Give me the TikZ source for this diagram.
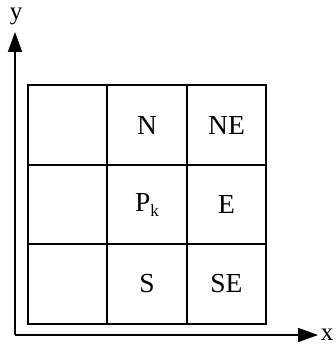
\documentclass[tikz,border=0pt]{standalone}
\usepackage{fontspec}
\setmainfont{Liberation Serif}
\usetikzlibrary{arrows.meta}
\begin{document}
\begin{tikzpicture}[x=1pt,y=-1pt,
  cell/.style={draw,line width=1.6pt,minimum width=79.5pt,minimum height=79.5pt,inner sep=0pt,font=\fontsize{27.5}{32}\selectfont},
  axis/.style={line width=1.8pt,-{Triangle[length=20pt,width=14pt]}},
  lbl/.style={font=\fontsize{25}{30}\selectfont,inner sep=0pt,anchor=base}]
\useasboundingbox (0,0) rectangle (335,345);
\node[cell] (c11) at (67.5,125) {};
\node[cell] (c12) at (147,125) {N};
\node[cell] (c13) at (226.5,125) {NE};
\node[cell] (c21) at (67.5,204.5) {};
\node[cell] (c22) at (147,204.5) {P\raisebox{-5pt}{\fontsize{17}{19}\selectfont k}};
\node[cell] (c23) at (226.5,204.5) {E};
\node[cell] (c31) at (67.5,284) {};
\node[cell] (c32) at (147,284) {S};
\node[cell] (c33) at (226.5,284) {SE};
\coordinate (o) at (15,335);
\coordinate (ytip) at (15,32);
\coordinate (xtip) at (318,335);
\draw[axis] (o) -- (ytip);
\draw[axis] (o) -- (xtip);
\node[lbl] (ylab) at (16,20) {y};
\node[lbl] (xlab) at (327,340) {x};
\end{tikzpicture}
\end{document}
